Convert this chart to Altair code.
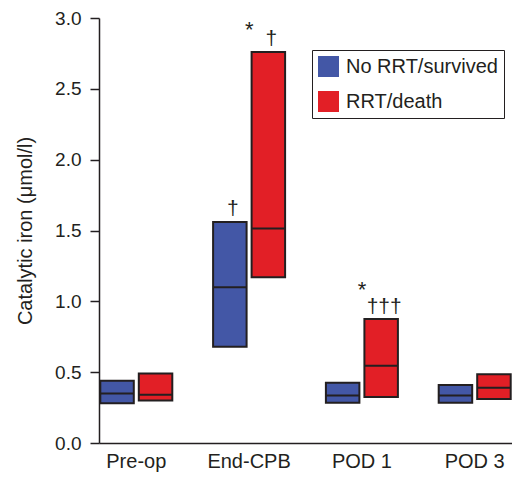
import altair as alt
import pandas as pd

# ---- data ----
times = ["Pre-op", "End-CPB", "POD 1", "POD 3"]
groups = ["No RRT/survived", "RRT/death"]

q1_blue = [0.28, 0.68, 0.285, 0.285]
med_blue = [0.35, 1.10, 0.335, 0.335]
q3_blue = [0.44, 1.56, 0.425, 0.41]

q1_red = [0.30, 1.17, 0.325, 0.31]
med_red = [0.34, 1.515, 0.545, 0.39]
q3_red = [0.49, 2.76, 0.875, 0.485]

ann_time = ["End-CPB", "End-CPB", "End-CPB", "POD 1", "POD 1"]
ann_group = ["No RRT/survived", "RRT/death", "RRT/death", "RRT/death", "RRT/death"]
ann_text = ["†", "*", "†", "*", "†††"]
ann_y = [1.654, 2.951, 2.85, 1.115, 0.958]

rows = []
for i, t in enumerate(times):
    rows.append({"time": t, "group": groups[0], "q1": q1_blue[i], "med": med_blue[i], "q3": q3_blue[i]})
    rows.append({"time": t, "group": groups[1], "q1": q1_red[i], "med": med_red[i], "q3": q3_red[i]})
df = pd.DataFrame(rows)

ann = pd.DataFrame({"time": ann_time, "group": ann_group, "text": ann_text, "y": ann_y})

FONT = "Liberation Sans"
INK = "#231F20"
BLUE = "#4357A6"
RED = "#E21F26"

x_enc = alt.X(
    "time:N", sort=times,
    scale=alt.Scale(paddingInner=0.3617, paddingOuter=0.0115),
    axis=alt.Axis(title=None, ticks=False, labelAngle=0, labelPadding=8,
                  labelFontSize=20, labelFont=FONT, labelColor=INK,
                  domainColor=INK, domainWidth=1.5),
)
xo_enc = alt.XOffset("group:N", sort=groups, scale=alt.Scale(paddingInner=0.13, paddingOuter=0))

y_scale = alt.Scale(domain=[0, 3], nice=False, zero=True)

boxes = alt.Chart(df).mark_bar(stroke=INK, strokeWidth=2).encode(
    x=x_enc,
    xOffset=xo_enc,
    y=alt.Y("q1:Q", scale=y_scale,
            axis=alt.Axis(title="Catalytic iron (μmol/l)", values=[0, 0.5, 1, 1.5, 2, 2.5, 3],
                          format=".1f", grid=False, tickSize=9, tickWidth=1.5, tickColor=INK,
                          domainColor=INK, domainWidth=1.5, labelPadding=9,
                          labelFontSize=19, labelFont=FONT, labelColor=INK,
                          titleFont=FONT, titleFontSize=20, titleFontWeight="normal",
                          titleColor=INK, titlePadding=19)),
    y2="q3:Q",
    color=alt.Color("group:N", sort=groups,
                    scale=alt.Scale(domain=groups, range=[BLUE, RED]),
                    legend=alt.Legend(title=None, orient="none", legendX=213, legendY=32,
                                      strokeColor=INK, padding=6, symbolType="square",
                                      symbolSize=441, symbolStrokeWidth=0, symbolOpacity=1,
                                      labelFontSize=20, labelFont=FONT, labelColor=INK,
                                      rowPadding=14, labelOffset=7, fillColor="white")),
)

medians = alt.Chart(df).mark_tick(color=INK, thickness=2, size=33.5, opacity=1).encode(
    x=alt.X("time:N", sort=times),
    xOffset=alt.XOffset("group:N", sort=groups),
    y=alt.Y("med:Q", scale=y_scale),
)

notes = alt.Chart(ann).mark_text(font=FONT, fontSize=21, color=INK, baseline="middle", dx=3).encode(
    x=alt.X("time:N", sort=times),
    xOffset=alt.XOffset("group:N", sort=groups),
    y=alt.Y("y:Q", scale=y_scale),
    text="text:N",
)

stars = notes.transform_filter(alt.datum.text == "*").mark_text(
    font=FONT, fontSize=22, color=INK, baseline="middle", dx=-19, dy=5)
daggers = notes.transform_filter(alt.datum.text != "*")

chart = alt.layer(boxes, medians, daggers, stars).properties(
    width=413, height=425,
    padding={"left": 91, "top": 10, "right": 0, "bottom": 30},
    autosize="none",
    background="white",
).configure_view(stroke=None)

chart.save("out.html", embed_options={"renderer": "svg", "actions": False})
